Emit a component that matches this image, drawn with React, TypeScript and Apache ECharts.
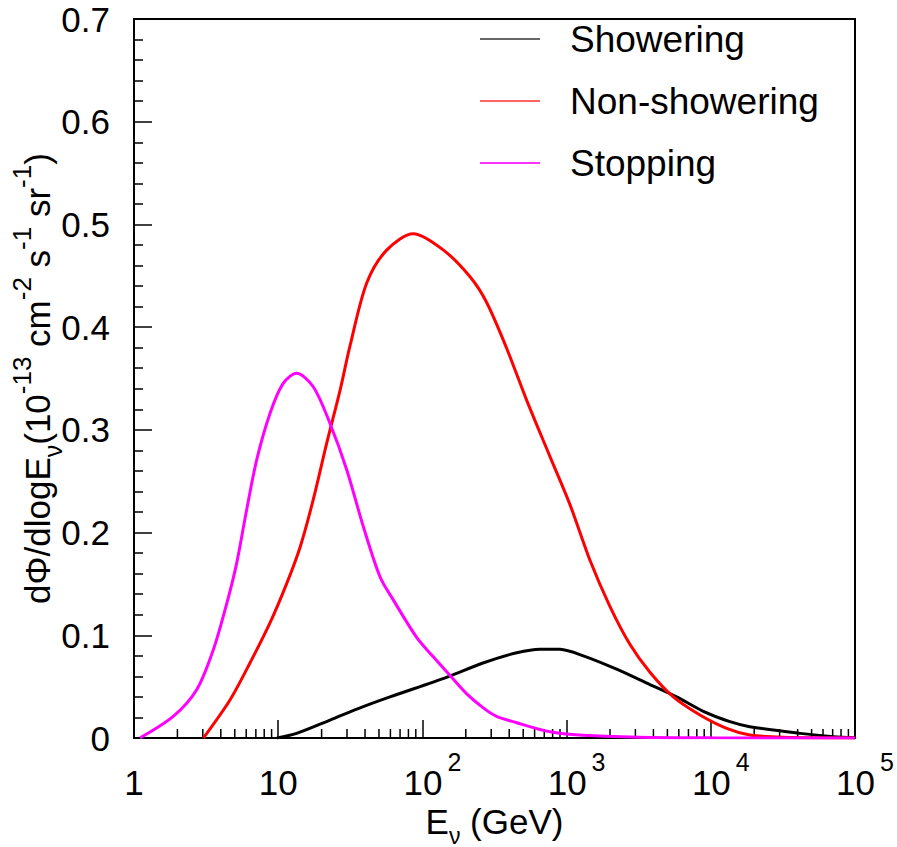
import React, { useEffect, useRef } from 'react';
import * as echarts from 'echarts';

const FONT = '"Liberation Sans", Arial, Helvetica, sans-serif';

const seriesNames = ['Showering', 'Non-showering', 'Stopping'];
const seriesColors = ['#000000', '#ff0000', '#ff00ff'];
const legendColors = ['#666666', '#ff6464', '#ff33ff'];

// Energy (GeV) and dPhi/dlogE values
const showeringE = [9.8, 13.4, 22.9, 38.9, 59.6, 147, 263, 451, 655, 900, 1306, 2223, 3784, 5794, 8872, 13580, 18620, 41690, 70800, 100000];
const showeringV = [0, 0.0045, 0.0175, 0.0305, 0.040, 0.059, 0.073, 0.083, 0.0865, 0.0863, 0.080, 0.067, 0.052, 0.040, 0.026, 0.0159, 0.011, 0.0045, 0.0013, 0.0003];

const nonShoweringE = [3.03, 4.63, 6.37, 8.77, 11.5, 14.2, 17.5, 21.7, 26.9, 31.5, 41.1, 56.5, 86.5, 140, 214, 279, 385, 528, 767, 1057, 1452, 2000, 2754, 3784, 5495, 8414, 12880, 18620, 31600, 100000];
const nonShoweringV = [0, 0.037, 0.073, 0.112, 0.151, 0.186, 0.232, 0.287, 0.339, 0.382, 0.443, 0.475, 0.491, 0.475, 0.449, 0.424, 0.379, 0.329, 0.274, 0.227, 0.173, 0.128, 0.091, 0.064, 0.040, 0.0224, 0.0094, 0.003, 0.0008, 0];

const stoppingE = [1.1, 1.87, 2.72, 3.55, 4.40, 5.15, 6.04, 7.10, 8.77, 10.8, 13.4, 17.5, 22.9, 29.9, 38.9, 50.8, 63.1, 91.2, 119, 155, 203, 263, 327, 451, 767, 1290, 3160, 10000, 100000];
const stoppingV = [0, 0.021, 0.047, 0.086, 0.131, 0.170, 0.222, 0.271, 0.316, 0.345, 0.355, 0.342, 0.306, 0.261, 0.206, 0.157, 0.134, 0.098, 0.079, 0.061, 0.043, 0.0296, 0.021, 0.0149, 0.006, 0.0027, 0.0008, 0.0002, 0];

const xMajorTicks = [1, 10, 100, 1000, 10000, 100000];
const xTickExponents = ['', '', '2', '3', '4', '5'];
const xMinorTicks: number[] = [];
for (let d = 0; d < 5; d++) {
  for (let m = 2; m <= 9; m++) xMinorTicks.push(m * Math.pow(10, d));
}

const zip = (a: number[], b: number[]) => a.map((x, i) => [x, b[i]]);

export default function App() {
  const ref = useRef<HTMLDivElement>(null);
  useEffect(() => {
    document.body.style.margin = '0';
    if (!ref.current) return;
    const chart = echarts.init(ref.current, undefined, { renderer: 'svg' });
    const dataSets = [zip(showeringE, showeringV), zip(nonShoweringE, nonShoweringV), zip(stoppingE, stoppingV)];
    const option: any = {
      animation: false,
      backgroundColor: '#ffffff',
      textStyle: { fontFamily: FONT },
      grid: {
        left: 134, right: 42, top: 19, bottom: 109,
        containLabel: false, outerBoundsMode: 'none',
        show: true, borderColor: '#000', borderWidth: 2, backgroundColor: 'transparent',
      },
      legend: {
        orient: 'vertical', left: 475, top: 14, itemGap: 22,
        itemWidth: 60, itemHeight: 2, icon: 'rect',
        data: seriesNames.map((n, i) => ({ name: n, itemStyle: { color: legendColors[i] } })),
        textStyle: { fontSize: 37, color: '#000', fontFamily: FONT, lineHeight: 40, padding: [0, 0, 0, 25] },
      },
      xAxis: {
        type: 'log', logBase: 10, min: 1, max: 100000, splitNumber: 5,
        axisLine: { show: true, onZero: false, lineStyle: { color: '#000', width: 2 } },
        axisTick: { show: true, inside: true, length: 18, lineStyle: { color: '#000', width: 1.5 } },
        splitLine: { show: false },
        axisLabel: {
          margin: 11,
          formatter: (v: number) => {
            const idx = xMajorTicks.findIndex((t) => Math.abs(Math.log10(t) - Math.log10(v)) < 1e-6);
            if (idx < 0) return '';
            const exp = xTickExponents[idx];
            if (!exp) return `{b|${idx === 0 ? '1' : '10'}}`;
            return `{bp|10}{s|${exp}}`;
          },
          rich: {
            b: { fontSize: 35, lineHeight: 66, color: '#000', fontFamily: FONT },
            bp: { fontSize: 35, lineHeight: 66, color: '#000', fontFamily: FONT, padding: [0, 0, 0, 20] },
            s: { fontSize: 25, lineHeight: 24, verticalAlign: 'top', color: '#000', fontFamily: FONT, padding: [0, 0, 0, 5] },
          },
        },
        name: '{a|E}{sub|ν}{a| (GeV)}',
        nameLocation: 'middle',
        nameGap: 57,
        nameMoveOverlap: false,
        nameTextStyle: {
          rich: {
            a: { fontSize: 35, lineHeight: 52, color: '#000', fontFamily: FONT },
            sub: { fontSize: 23, lineHeight: 20, verticalAlign: 'bottom', color: '#000', fontFamily: FONT },
          },
        },
      },
      yAxis: {
        type: 'value', min: 0, max: 0.7, interval: 0.1,
        axisLine: { show: true, lineStyle: { color: '#000', width: 2 } },
        axisTick: { show: true, inside: true, length: 18, lineStyle: { color: '#000', width: 1.5 } },
        minorTick: { show: true, splitNumber: 5, length: 9, lineStyle: { color: '#000', width: 1.5 } },
        splitLine: { show: false },
        axisLabel: {
          fontSize: 35, color: '#000', margin: 24, fontFamily: FONT,
          formatter: (v: number) => (Math.abs(v) < 1e-9 ? '0' : v.toFixed(1)),
        },
        name: '{a|dΦ/dlogE}{sub|ν}{a|(10}{sup|-13}{a| cm}{sup|-2}{a| s}{sup|-1}{a| sr}{sup|-1}{a|)}',
        nameLocation: 'middle',
        nameRotate: 90,
        nameGap: 69,
        nameMoveOverlap: false,
        nameTextStyle: {
          rich: {
            a: { fontSize: 35, lineHeight: 56, color: '#000', fontFamily: FONT },
            sub: { fontSize: 25, lineHeight: 24, verticalAlign: 'bottom', color: '#000', fontFamily: FONT },
            sup: { fontSize: 26, lineHeight: 24, verticalAlign: 'top', color: '#000', fontFamily: FONT },
          },
        },
      },
      series: [
        ...seriesNames.map((n, i) => ({
          type: 'line', name: n, data: dataSets[i],
          showSymbol: false, symbol: 'none', smooth: 0.3,
          lineStyle: { color: seriesColors[i], width: 3 },
          itemStyle: { color: seriesColors[i] },
          z: 3 + i,
        })),
        {
          type: 'custom', name: 'minorTicks', silent: true, z: 2, clip: false,
          data: xMinorTicks.map((e) => [e, 0]),
          renderItem: (_p: any, api: any) => {
            const pt = api.coord([api.value(0), 0]);
            return {
              type: 'line',
              shape: { x1: pt[0], y1: pt[1], x2: pt[0], y2: pt[1] - 9 },
              style: { stroke: '#000', lineWidth: 1.5 },
            };
          },
        },
      ],
    };
    chart.setOption(option);
    return () => chart.dispose();
  }, []);
  return <div ref={ref} style={{ width: 897, height: 847 }} />;
}
